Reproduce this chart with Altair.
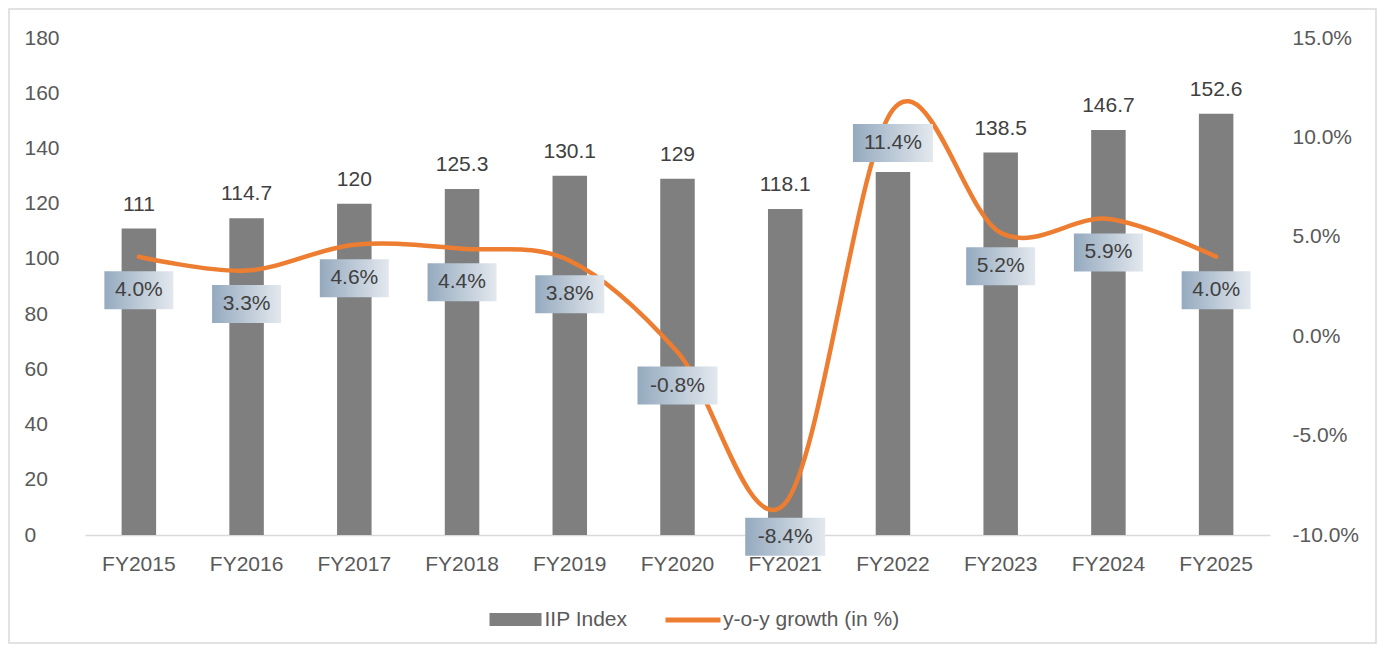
import altair as alt
import pandas as pd

years = ["FY2015", "FY2016", "FY2017", "FY2018", "FY2019", "FY2020",
         "FY2021", "FY2022", "FY2023", "FY2024", "FY2025"]
iip = [111, 114.7, 120, 125.3, 130.1, 129, 118.1, 131.5, 138.5, 146.7, 152.6]
# FY2022 value label is hidden behind the growth label in the reference
iip_labels = ["111", "114.7", "120", "125.3", "130.1", "129", "118.1",
              "", "138.5", "146.7", "152.6"]
growth_pct = [4.0, 3.3, 4.6, 4.4, 3.8, -0.8, -8.4, 11.4, 5.2, 5.9, 4.0]
growth_labels = ["4.0%", "3.3%", "4.6%", "4.4%", "3.8%", "-0.8%", "-8.4%",
                 "11.4%", "5.2%", "5.9%", "4.0%"]

df = pd.DataFrame({
    "year": years,
    "iip": iip,
    "iip_label": iip_labels,
    "growth": [g / 100 for g in growth_pct],
    "growth_label": growth_labels,
    "s1": "IIP Index",
    "s2": "y-o-y growth (in %)",
})

FONT = "Liberation Sans"
AX = "#595959"
LBL = "#404040"
FS = 21

x = alt.X("year:N", sort=years,
          scale=alt.Scale(paddingInner=0.68, paddingOuter=0.34),
          axis=alt.Axis(title=None, labelAngle=0, ticks=False, tickSize=0,
                        labelPadding=18, labelFontSize=FS, labelColor=AX,
                        domainColor="#d9d9d9", domainWidth=1.5, grid=False))

base = alt.Chart(df)

y_left = alt.Y("iip:Q", scale=alt.Scale(domain=[0, 180], nice=False),
               axis=alt.Axis(title=None, values=list(range(0, 181, 20)),
                             orient="left", labelAlign="left", labelPadding=61,
                             ticks=False, tickSize=0, domain=False, grid=False,
                             labelFontSize=FS, labelColor=AX))

bars = base.mark_bar(size=34.5).encode(
    x=x, y=y_left,
    fill=alt.Fill("s1:N", scale=alt.Scale(domain=["IIP Index"], range=["#7f7f7f"]),
                  legend=alt.Legend(title=None, orient="none", legendX=420, legendY=571,
                                    symbolType="M-4,-1H4V1H-4Z", symbolSize=169,
                                    symbolStrokeWidth=0, labelOffset=18.5,
                                    labelLimit=0,
                                    labelFontSize=FS, labelColor=AX, padding=0)),
)
bar_text = base.mark_text(dy=-18, baseline="alphabetic", fontSize=FS, color=LBL).encode(
    x=x, y=alt.Y("iip:Q"), text="iip_label:N")

left = alt.layer(bars, bar_text)

y_right = alt.Y("growth:Q", scale=alt.Scale(domain=[-0.10, 0.15], nice=False),
                axis=alt.Axis(title=None, values=[-0.10, -0.05, 0, 0.05, 0.10, 0.15],
                              labelExpr="replace(format(datum.value, '.1%'), '\u2212', '-')",
                              orient="right", labelAlign="left",
                              labelPadding=22, ticks=False, tickSize=0, domain=False,
                              grid=False, labelFontSize=FS, labelColor=AX))

line = base.mark_line(interpolate="cardinal", tension=0, strokeWidth=4.5,
                      strokeCap="round").encode(
    x=x, y=y_right,
    stroke=alt.Stroke("s2:N", scale=alt.Scale(domain=["y-o-y growth (in %)"], range=["#ed7d31"]),
                      legend=alt.Legend(title=None, orient="none", legendX=578, legendY=552,
                                        symbolType="stroke", symbolSize=3025,
                                        symbolStrokeWidth=5, labelOffset=0,
                                        labelLimit=0,
                                        labelFontSize=FS, labelColor=AX, padding=0)),
)

grad = alt.Gradient(gradient="linear", x1=0, x2=1, y1=0, y2=0,
                    stops=[alt.GradientStop(offset=0, color="#95aabf"),
                           alt.GradientStop(offset=1, color="#e3e8ee")])

box_narrow = base.mark_rect(width=69, height=38, yOffset=33.5, fill=grad).encode(
    x=x, y=alt.Y("growth:Q")
).transform_filter("datum.growth >= 0 && datum.growth < 0.1")
box_wide = base.mark_rect(width=80, height=38, yOffset=33.5, fill=grad).encode(
    x=x, y=alt.Y("growth:Q")
).transform_filter("datum.growth < 0 || datum.growth >= 0.1")
box_text = base.mark_text(yOffset=33.5, baseline="middle", fontSize=FS, color=LBL).encode(
    x=x, y=alt.Y("growth:Q"), text="growth_label:N")

right = alt.layer(line, box_narrow, box_wide, box_text)

frame = alt.Chart(pd.DataFrame({"f": [0]})).mark_rect(
    fill=None, stroke="#d9d9d9", strokeWidth=1.5).encode(
    x=alt.value(-76), x2=alt.value(1291), y=alt.value(-29), y2=alt.value(605))

chart = alt.layer(left, right, frame).resolve_scale(
    y="independent", fill="independent", stroke="independent"
).properties(
    width=1185, height=497,
    padding={"left": 77, "top": 30, "right": 108, "bottom": 110},
    autosize=alt.AutoSizeParams(type="none"),
).configure(font=FONT).configure_view(stroke=None)

chart.save("out.html", embed_options={"renderer": "svg", "actions": False})
